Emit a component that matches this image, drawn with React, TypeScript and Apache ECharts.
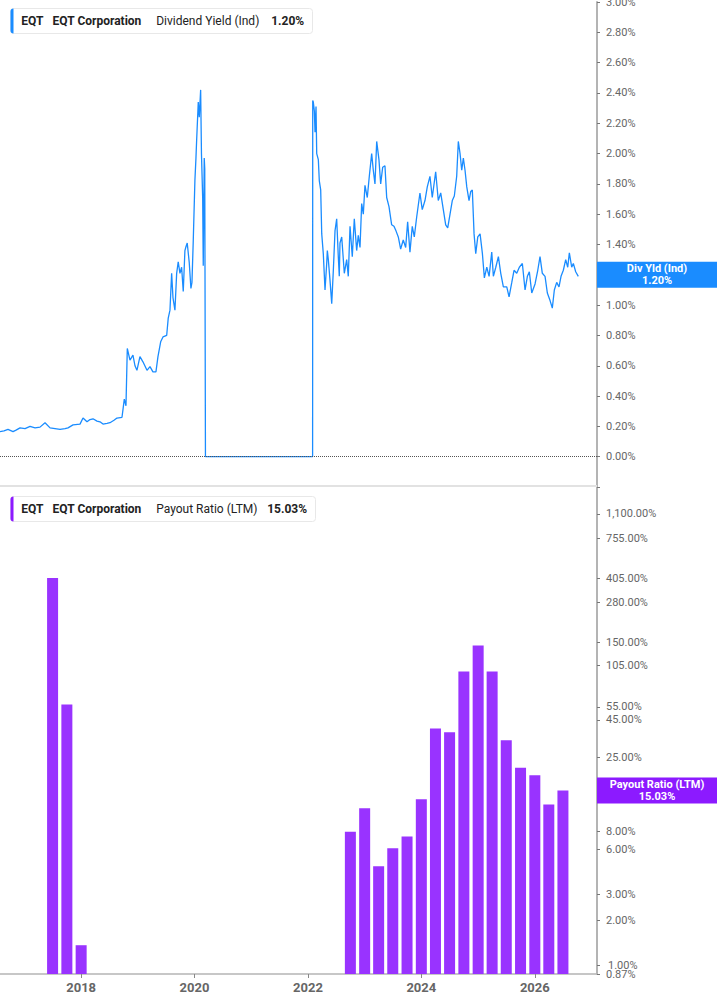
import React, { useEffect, useRef } from 'react';
import * as echarts from 'echarts';

// dividend yield (%), dates as decimal years
const yieldPoints: [number, number][] = [
  [2016.666, 0.165], [2016.735, 0.17], [2016.804, 0.18], [2016.891, 0.165], [2016.943, 0.175],
  [2017.012, 0.19], [2017.099, 0.185], [2017.185, 0.2], [2017.272, 0.19], [2017.358, 0.195],
  [2017.445, 0.224], [2017.532, 0.19], [2017.618, 0.185], [2017.705, 0.18], [2017.791, 0.185],
  [2017.843, 0.19], [2017.93, 0.21], [2018.051, 0.215], [2018.103, 0.255], [2018.172, 0.23],
  [2018.224, 0.245], [2018.276, 0.25], [2018.345, 0.235], [2018.397, 0.23], [2018.449, 0.215],
  [2018.518, 0.22], [2018.57, 0.224], [2018.639, 0.24], [2018.691, 0.255], [2018.778, 0.26],
  [2018.795, 0.31], [2018.818, 0.38], [2018.847, 0.336], [2018.87, 0.714], [2018.916, 0.637],
  [2018.968, 0.67], [2019.003, 0.6], [2019.037, 0.57], [2019.089, 0.66], [2019.141, 0.626],
  [2019.211, 0.57], [2019.263, 0.594], [2019.314, 0.56], [2019.366, 0.56], [2019.401, 0.66],
  [2019.448, 0.758], [2019.488, 0.79], [2019.552, 0.8], [2019.579, 0.914], [2019.609, 0.967],
  [2019.638, 1.21], [2019.661, 1.05], [2019.695, 0.967], [2019.725, 1.21], [2019.752, 1.286],
  [2019.782, 1.21], [2019.811, 1.25], [2019.839, 1.09], [2019.868, 1.36], [2019.886, 1.385],
  [2019.908, 1.41], [2019.943, 1.28], [2019.972, 1.11], [2019.99, 1.15], [2020.012, 1.42],
  [2020.041, 1.824], [2020.059, 1.97], [2020.071, 2.09], [2020.099, 2.34], [2020.116, 2.24],
  [2020.14, 2.42], [2020.154, 2.0], [2020.175, 1.71], [2020.185, 1.26], [2020.202, 1.97],
  [2020.211, 1.9], [2020.223, 0], [2022.077, 0], [2022.079, 2.35], [2022.089, 2.34],
  [2022.107, 2.28], [2022.119, 2.14], [2022.136, 2.31], [2022.148, 2.0], [2022.176, 1.96],
  [2022.193, 1.82], [2022.217, 1.76], [2022.235, 1.47], [2022.262, 1.34], [2022.292, 1.1],
  [2022.321, 1.275], [2022.332, 1.36], [2022.349, 1.3], [2022.378, 1.165], [2022.408, 1.01],
  [2022.418, 1.01], [2022.436, 1.23], [2022.465, 1.49], [2022.494, 1.57], [2022.522, 1.32],
  [2022.539, 1.19], [2022.551, 1.41], [2022.581, 1.45], [2022.626, 1.21], [2022.667, 1.3],
  [2022.695, 1.19], [2022.725, 1.52], [2022.764, 1.32], [2022.799, 1.57], [2022.84, 1.36],
  [2022.868, 1.46], [2022.898, 1.38], [2022.927, 1.67], [2022.955, 1.6], [2022.984, 1.79],
  [2023.024, 1.71], [2023.059, 1.85], [2023.1, 2.0], [2023.128, 1.89], [2023.157, 1.8],
  [2023.187, 2.08], [2023.226, 1.96], [2023.256, 1.8], [2023.291, 1.91], [2023.33, 1.92],
  [2023.36, 1.71], [2023.4, 1.65], [2023.446, 1.53], [2023.486, 1.52], [2023.521, 1.49],
  [2023.561, 1.45], [2023.602, 1.37], [2023.647, 1.43], [2023.689, 1.38], [2023.723, 1.55],
  [2023.763, 1.35], [2023.803, 1.52], [2023.838, 1.45], [2023.879, 1.58], [2023.936, 1.74],
  [2023.976, 1.63], [2024.023, 1.69], [2024.063, 1.78], [2024.109, 1.85], [2024.149, 1.71],
  [2024.208, 1.88], [2024.253, 1.69], [2024.295, 1.74], [2024.34, 1.63], [2024.381, 1.53],
  [2024.416, 1.51], [2024.456, 1.6], [2024.495, 1.69], [2024.53, 1.72], [2024.571, 1.85],
  [2024.599, 2.08], [2024.629, 2.0], [2024.658, 1.89], [2024.686, 1.97], [2024.715, 1.89],
  [2024.745, 1.78], [2024.784, 1.69], [2024.814, 1.75], [2024.841, 1.76], [2024.871, 1.47],
  [2024.9, 1.34], [2024.935, 1.45], [2024.975, 1.47], [2025.015, 1.34], [2025.049, 1.18],
  [2025.091, 1.25], [2025.131, 1.19], [2025.177, 1.35], [2025.205, 1.19], [2025.247, 1.25],
  [2025.292, 1.32], [2025.333, 1.21], [2025.378, 1.12], [2025.437, 1.12], [2025.477, 1.055],
  [2025.524, 1.15], [2025.563, 1.23], [2025.61, 1.21], [2025.655, 1.25], [2025.707, 1.275],
  [2025.754, 1.1], [2025.794, 1.19], [2025.828, 1.22], [2025.87, 1.08], [2025.927, 1.14],
  [2025.974, 1.23], [2026.013, 1.32], [2026.053, 1.21], [2026.1, 1.19], [2026.14, 1.08],
  [2026.187, 1.03], [2026.226, 0.98], [2026.261, 1.1], [2026.302, 1.15], [2026.342, 1.12],
  [2026.377, 1.19], [2026.417, 1.23], [2026.458, 1.3], [2026.493, 1.25], [2026.521, 1.345],
  [2026.562, 1.25], [2026.59, 1.275], [2026.631, 1.22], [2026.676, 1.19],
];

// payout ratio (LTM, %), quarterly
const payoutDates: string[] = [
  '2017-07-01', '2017-10-01', '2018-01-01',
  '2022-10-01', '2023-01-01', '2023-04-01', '2023-07-01', '2023-10-01',
  '2024-01-01', '2024-04-01', '2024-07-01', '2024-10-01',
  '2025-01-01', '2025-04-01', '2025-07-01', '2025-10-01',
  '2026-01-01', '2026-04-01', '2026-07-01',
];
const payoutValues: number[] = [
  407, 57, 1.36,
  7.93, 11.4, 4.63, 6.12, 7.34,
  13.1, 39.3, 37.1, 95.1,
  142.5, 95.1, 32.7, 21.4,
  19.0, 12.1, 15.03,
];

// tick marks on the log axis; the label under the value tag is left out,
// and 1.00% sits so close to the floor label that it is drawn separately
const payoutTicks: number[] = [1100, 755, 405, 280, 150, 105, 55, 45, 25, 15, 8, 6, 3, 2, 1, 0.87];
const payoutLabels: number[] = [1100, 755, 405, 280, 150, 105, 55, 45, 25, 8, 6, 3, 2, 0.87];
const payoutCrowdedLabel = 1;
const PAYOUT_FLOOR = 0.87;
const PAYOUT_CEIL = 1670;
const lastYield = 1.2;
const lastPayout = 15.03;

const BLUE = '#1a8cff';
const PURPLE = '#9933ff';
const PURPLE_TAG = '#8c1aff';
const FONT = 'Roboto';

const yearToTime = (y: number) => {
  const whole = Math.floor(y);
  const start = Date.UTC(whole, 0, 1);
  const end = Date.UTC(whole + 1, 0, 1);
  return start + (y - whole) * (end - start);
};
const toLog = (v: number) => Math.log10(v / PAYOUT_FLOOR);
const fmtPct = (v: number) =>
  v.toLocaleString('en-US', { minimumFractionDigits: 2, maximumFractionDigits: 2 }) + '%';

const legend = (id: string, top: number, color: string, width: number, parts: [string, number, boolean][]) => ({
  type: 'group',
  id,
  left: 10,
  top,
  children: [
    { type: 'rect', z: 100, shape: { x: 0, y: 0, width, height: 25, r: 3 }, style: { fill: '#fff', stroke: '#e8e8e8', lineWidth: 1 } },
    { type: 'rect', z: 101, shape: { x: 0, y: 0, width: 3, height: 25, r: [3, 0, 0, 3] }, style: { fill: color } },
    ...parts.map(([text, x, bold]) => ({
      type: 'text',
      z: 102,
      x,
      y: 12.5,
      style: {
        text,
        fill: '#222',
        fontSize: 12,
        fontFamily: FONT,
        fontWeight: bold ? 'bold' : 'normal',
        verticalAlign: 'middle',
      },
    })),
  ],
});

const valueTag = (id: string, y: number, color: string, text: string) => ({
  type: 'group',
  id,
  x: 597,
  y: y - 13,
  children: [
    { type: 'rect', z: 100, shape: { x: 0, y: 0, width: 120, height: 26 }, style: { fill: color } },
    {
      type: 'text',
      z: 101,
      x: 60,
      y: 13,
      style: {
        text,
        fill: '#fff',
        fontSize: 11,
        fontWeight: 'bold',
        fontFamily: FONT,
        align: 'center',
        verticalAlign: 'middle',
        lineHeight: 12,
      },
    },
  ],
});

const App: React.FC = () => {
  const chartRef = useRef<HTMLDivElement | null>(null);

  useEffect(() => {
    document.body.style.margin = '0';
    const chart = echarts.init(chartRef.current!, null, { renderer: 'svg' });
    const xMin = yearToTime(2016.666);
    const xMax = Date.UTC(2027, 0, 1);
    const axisLineStyle = { color: '#b4b4b4', width: 2 };

    chart.setOption({
      animation: false,
      useUTC: true,
      textStyle: { fontFamily: FONT },
      grid: [
        { left: 0, right: 120, top: 2, height: 485, outerBoundsMode: 'none' },
        { left: 0, right: 120, top: 487, bottom: 31, outerBoundsMode: 'none' },
      ],
      xAxis: [
        { type: 'time', gridIndex: 0, min: xMin, max: xMax, show: false },
        {
          type: 'time',
          gridIndex: 1,
          min: xMin,
          max: xMax,
          axisLine: { show: true, lineStyle: { color: '#b4b4b4', width: 1.5 } },
          axisTick: { show: true, length: 4, lineStyle: { color: '#888' } },
          axisLabel: { formatter: '{yyyy}', color: '#666', fontSize: 13, fontWeight: 'bold', fontFamily: FONT, margin: 7 },
          splitLine: { show: false },
        },
      ],
      yAxis: [
        {
          type: 'value',
          gridIndex: 0,
          position: 'right',
          min: -0.2,
          max: 3,
          interval: 0.2,
          axisLine: { show: true, lineStyle: axisLineStyle },
          axisTick: { show: true, length: 3, lineStyle: { color: '#777' } },
          axisLabel: {
            color: '#666',
            fontSize: 11,
            fontFamily: FONT,
            margin: 9,
            formatter: (v: number) =>
              v < -0.001 || Math.abs(v - lastYield) < 0.001 ? '' : fmtPct(Math.abs(v) < 1e-9 ? 0 : v),
          },
          splitLine: { show: false },
        },
        {
          type: 'value',
          gridIndex: 1,
          position: 'right',
          min: 0,
          max: toLog(PAYOUT_CEIL),
          axisLine: { show: true, lineStyle: axisLineStyle },
          axisTick: { show: true, length: 3, lineStyle: { color: '#777' }, customValues: payoutTicks.map(toLog) },
          axisLabel: {
            color: '#666',
            fontSize: 11,
            fontFamily: FONT,
            margin: 9,
            showMinLabel: true,
            showMaxLabel: true,
            customValues: payoutLabels.map(toLog),
            formatter: (v: number) => fmtPct(PAYOUT_FLOOR * Math.pow(10, v)),
          },
          splitLine: { show: false },
        },
      ],
      series: [
        {
          name: 'Dividend Yield (Ind)',
          type: 'line',
          xAxisIndex: 0,
          yAxisIndex: 0,
          showSymbol: false,
          data: yieldPoints.map(([y, v]) => [yearToTime(y), v]),
          lineStyle: { color: BLUE, width: 1.3 },
          itemStyle: { color: BLUE },
          markLine: {
            silent: true,
            symbol: ['none', 'none'],
            label: { show: false },
            lineStyle: { type: 'dotted', color: '#555', width: 1 },
            data: [{ yAxis: 0 }],
          },
          z: 3,
        },
        {
          name: 'Payout Ratio (LTM)',
          type: 'bar',
          xAxisIndex: 1,
          yAxisIndex: 1,
          barWidth: 11,
          data: payoutDates.map((d, i) => [Date.parse(d + 'T00:00:00Z'), toLog(payoutValues[i])]),
          itemStyle: { color: PURPLE },
        },
      ],
    });

    const yTag = chart.convertToPixel({ yAxisIndex: 0 }, lastYield) as number;
    const pTag = chart.convertToPixel({ yAxisIndex: 1 }, toLog(lastPayout)) as number;
    const yCrowded = chart.convertToPixel({ yAxisIndex: 1 }, toLog(payoutCrowdedLabel)) as number;

    chart.setOption({
      graphic: [
        { type: 'line', id: 'sep', z: 50, shape: { x1: 0, y1: 486, x2: 597, y2: 486 }, style: { stroke: '#e2e2e2', lineWidth: 2 } },
        {
          type: 'text',
          id: 'crowded',
          z: 50,
          x: 608,
          y: yCrowded,
          style: {
            text: fmtPct(payoutCrowdedLabel),
            fill: '#666',
            fontSize: 11,
            fontFamily: FONT,
            verticalAlign: 'middle',
          },
        },
        legend('lgTop', 8, BLUE, 302, [
          ['EQT', 10.7, true],
          ['EQT Corporation', 42, true],
          ['Dividend Yield (Ind)', 145.7, false],
          [fmtPct(lastYield), 260.7, true],
        ]),
        legend('lgBottom', 496, PURPLE_TAG, 305, [
          ['EQT', 10.7, true],
          ['EQT Corporation', 42, true],
          ['Payout Ratio (LTM)', 145.7, false],
          [fmtPct(lastPayout), 256.7, true],
        ]),
        valueTag('tagYield', yTag, BLUE, 'Div Yld (Ind)\n' + fmtPct(lastYield)),
        valueTag('tagPayout', pTag, PURPLE_TAG, 'Payout Ratio (LTM)\n' + fmtPct(lastPayout)),
      ],
    });

    return () => {
      chart.dispose();
    };
  }, []);

  return <div ref={chartRef} style={{ width: '717px', height: '1005px' }} />;
};

export default App;
